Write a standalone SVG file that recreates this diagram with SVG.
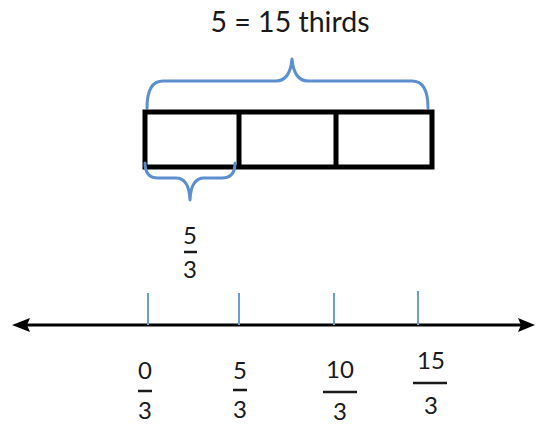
<svg xmlns="http://www.w3.org/2000/svg" width="536" height="424" viewBox="0 0 536 424">
<style>
.t{font-family:Lato,"Open Sans","Liberation Sans",sans-serif;fill:#1a1a1a;text-anchor:middle}
.f{font-size:24px}
.brace{fill:none;stroke:#5b8fd0;stroke-width:3;stroke-linecap:round;stroke-linejoin:round}
.box{fill:#fff;stroke:#000;stroke-width:5}
.tick{stroke:#6a9fd4;stroke-width:2}
.bar{stroke:#1a1a1a;stroke-width:2.5}
</style>
<rect width="536" height="424" fill="#fff"/>
<g id="title"><text class="t" x="290" y="32" font-size="28.5">5 = 15 thirds</text></g>
<g id="top-brace"><path class="brace" d="M147,108 Q147,81 163,81 H276 Q290,81 292,59 Q294,81 308,81 H412 Q428,81 428,108"/></g>
<g id="tape">
<rect class="box" x="145" y="112" width="287" height="55"/>
<line stroke="#000" stroke-width="5" x1="239" y1="112" x2="239" y2="167"/>
<line stroke="#000" stroke-width="5" x1="336" y1="112" x2="336" y2="167"/>
</g>
<g id="bottom-brace"><path class="brace" d="M145,163 Q145,178 158,178 H176 Q189,178 190,200 Q191,178 204,178 H222 Q235,178 235,163"/></g>
<g id="frac-brace">
<text class="t f" x="190" y="244">5</text>
<line class="bar" x1="184" y1="252" x2="197" y2="252"/>
<text class="t f" x="190" y="278">3</text>
</g>
<g id="connectors">
<line x1="24" y1="325" x2="526" y2="325" stroke="#000" stroke-width="3"/>
<path d="M12,325 L30,318 L27,325 L30,332 Z" fill="#000"/>
<path d="M535,325 L518,318 L521,325 L518,332 Z" fill="#000"/>
</g>
<g id="ticks">
<line class="tick" x1="148" y1="293" x2="148" y2="325"/>
<line class="tick" x1="239" y1="293" x2="239" y2="325"/>
<line class="tick" x1="334" y1="293" x2="334" y2="325"/>
<line class="tick" x1="418" y1="291" x2="418" y2="325"/>
</g>
<g id="label-0">
<text class="t f" x="145" y="379">0</text>
<line class="bar" x1="138" y1="391" x2="152" y2="391"/>
<text class="t f" x="145" y="419">3</text>
</g>
<g id="label-5">
<text class="t f" x="240" y="379">5</text>
<line class="bar" x1="233" y1="390" x2="247" y2="390"/>
<text class="t f" x="240" y="418">3</text>
</g>
<g id="label-10">
<text class="t f" x="340" y="378">10</text>
<line class="bar" x1="323" y1="392" x2="357" y2="392"/>
<text class="t f" x="340" y="420">3</text>
</g>
<g id="label-15">
<text class="t f" x="431" y="369">15</text>
<line class="bar" x1="413" y1="383" x2="447" y2="383"/>
<text class="t f" x="431" y="414">3</text>
</g>
</svg>
